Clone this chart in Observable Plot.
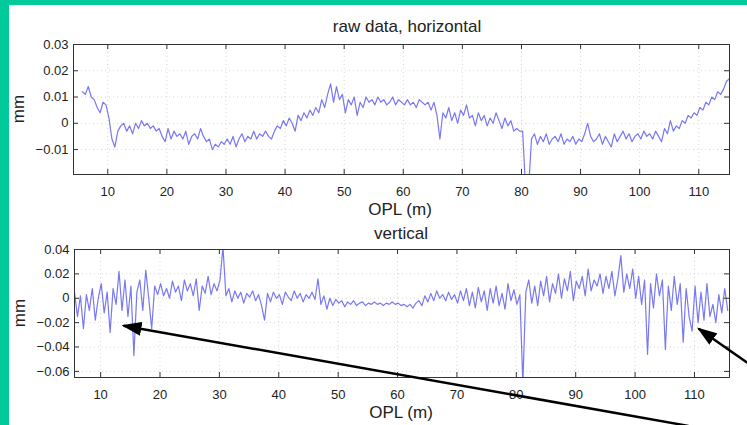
<!DOCTYPE html>
<html>
<head>
<meta charset="utf-8">
<script src="https://cdn.jsdelivr.net/npm/d3@7"></script>
<script src="https://cdn.jsdelivr.net/npm/@observablehq/plot@0.6"></script>
<style>
  html, body { margin: 0; padding: 0; background: #fff; }
  #page { position: relative; width: 747px; height: 425px; overflow: hidden; background: #fff;
          font-family: "Liberation Sans", Arial, Helvetica, sans-serif; color: #222; }
  .band { position: absolute; background: #00c99a; }
  .lbl { position: absolute; font-size: 17px; white-space: nowrap; transform: translate(-50%, -50%); }
  .rot { transform: translate(-50%, -50%) rotate(-90deg); }
  .plotbox { position: absolute; left: 0; }
</style>
</head>
<body>
<div id="page">
  <div class="plotbox" id="top" style="top:0px"></div>
  <div class="plotbox" id="bot" style="top:220px"></div>
  <div class="band" style="left:0;top:0;width:9px;height:425px"></div>
  <div class="band" style="left:0;top:0;width:747px;height:5px"></div>
  <div class="lbl" style="left:407px;top:27px">raw data, horizontal</div>
  <div class="lbl" style="left:400px;top:210px">OPL (m)</div>
  <div class="lbl rot" style="left:19px;top:109px">mm</div>
  <div class="lbl" style="left:401px;top:234px">vertical</div>
  <div class="lbl" style="left:401px;top:413px">OPL (m)</div>
  <div class="lbl rot" style="left:20px;top:313px">mm</div>
</div>
<script>
// ---- data ----
const hOPL = [
5.7,6.2,6.7,7.2,7.7,8.2,8.7,9.2,9.7,10.2,
10.7,11.2,11.7,12.2,12.7,13.2,13.7,14.2,14.7,15.2,
15.7,16.2,16.7,17.2,17.7,18.2,18.7,19.2,19.7,20.2,
20.7,21.2,21.7,22.2,22.7,23.2,23.7,24.2,24.7,25.2,
25.7,26.2,26.7,27.2,27.7,28.2,28.7,29.2,29.7,30.2,
30.7,31.2,31.7,32.2,32.7,33.2,33.7,34.2,34.7,35.2,
35.7,36.2,36.7,37.2,37.7,38.2,38.7,39.2,39.7,40.2,
40.7,41.2,41.7,42.2,42.7,43.2,43.7,44.2,44.7,45.2,
45.7,46.2,46.7,47.2,47.7,48.2,48.7,49.2,49.7,50.2,
50.7,51.2,51.7,52.2,52.7,53.2,53.7,54.2,54.7,55.2,
55.7,56.2,56.7,57.2,57.7,58.2,58.7,59.2,59.7,60.2,
60.7,61.2,61.7,62.2,62.7,63.2,63.7,64.2,64.7,65.2,
65.7,66.2,66.7,67.2,67.7,68.2,68.7,69.2,69.7,70.2,
70.7,71.2,71.7,72.2,72.7,73.2,73.7,74.2,74.7,75.2,
75.7,76.2,76.7,77.2,77.7,78.2,78.7,79.2,79.7,80.2,
80.7,81.2,81.7,82.2,82.7,83.2,83.7,84.2,84.7,85.2,
85.7,86.2,86.7,87.2,87.7,88.2,88.7,89.2,89.7,90.2,
90.7,91.2,91.7,92.2,92.7,93.2,93.7,94.2,94.7,95.2,
95.7,96.2,96.7,97.2,97.7,98.2,98.7,99.2,99.7,100.2,
100.7,101.2,101.7,102.2,102.7,103.2,103.7,104.2,104.7,105.2,
105.7,106.2,106.7,107.2,107.7,108.2,108.7,109.2,109.7,110.2,
110.7,111.2,111.7,112.2,112.7,113.2,113.7,114.2,114.7,115.2];
const hMM = [
0.012,0.011,0.014,0.010,0.009,0.006,0.004,0.008,0.007,0.002,
-0.006,-0.009,-0.003,-0.001,0,-0.003,-0.001,-0.004,0,-0.002,
0.001,-0.001,0,-0.002,-0.001,-0.003,-0.002,-0.005,-0.007,-0.002,
-0.006,-0.003,-0.005,-0.004,-0.006,-0.003,-0.008,-0.005,-0.004,-0.006,
-0.002,-0.005,-0.007,-0.006,-0.010,-0.008,-0.009,-0.007,-0.008,-0.006,
-0.008,-0.005,-0.009,-0.006,-0.004,-0.007,-0.005,-0.006,-0.003,-0.006,
-0.004,-0.005,-0.003,-0.005,-0.006,-0.003,-0.001,-0.002,0.001,-0.001,
0.002,0,-0.003,0.003,0.001,0.004,0.002,0.005,0.003,0.006,
0.004,0.009,0.006,0.011,0.015,0.008,0.014,0.009,0.011,0.004,
0.009,0.007,0.010,0.003,0.008,0.006,0.010,0.008,0.009,0.007,
0.010,0.008,0.009,0.007,0.008,0.010,0.007,0.009,0.008,0.007,
0.009,0.007,0.008,0.006,0.009,0.008,0.007,0.008,0.005,0.008,
0.003,-0.006,0.004,0.002,0.006,0.001,0.004,0,0.005,0.003,
0.007,0.002,0.003,-0.001,0.004,0.001,0.003,-0.001,0.002,0,
0.004,0.001,-0.002,0.002,-0.001,0.001,-0.003,-0.002,-0.003,-0.003,
-0.025,-0.025,-0.006,-0.004,-0.008,-0.005,-0.007,-0.004,-0.008,-0.006,
-0.005,-0.007,-0.004,-0.008,-0.006,-0.007,-0.005,-0.008,-0.006,-0.007,
-0.004,0,-0.005,-0.007,-0.006,-0.004,-0.008,-0.005,-0.007,-0.009,
-0.004,-0.007,-0.005,-0.003,-0.006,-0.004,-0.007,-0.005,-0.004,-0.006,
-0.003,-0.005,-0.004,-0.006,-0.003,-0.005,-0.007,-0.002,-0.004,0.001,
-0.003,-0.001,-0.002,0.001,0,0.003,0.002,0.004,0.003,0.006,
0.005,0.008,0.007,0.010,0.009,0.012,0.011,0.013,0.016,0.017];

const vOPL = [
5.6,6.1,6.6,7.1,7.6,8.1,8.6,9.1,9.6,10.1,
10.6,11.1,11.6,12.1,12.6,13.1,13.6,14.1,14.6,15.1,
15.6,16.1,16.6,17.1,17.6,18.1,18.6,19.1,19.6,20.1,
20.6,21.1,21.6,22.1,22.6,23.1,23.6,24.1,24.6,25.1,
25.6,26.1,26.6,27.1,27.6,28.1,28.6,29.1,29.6,30.1,
30.6,31.1,31.6,32.1,32.6,33.1,33.6,34.1,34.6,35.1,
35.6,36.1,36.6,37.1,37.6,38.1,38.6,39.1,39.6,40.1,
40.6,41.1,41.6,42.1,42.6,43.1,43.6,44.1,44.6,45.1,
45.6,46.1,46.6,47.1,47.6,48.1,48.6,49.1,49.6,50.1,
50.6,51.1,51.6,52.1,52.6,53.1,53.6,54.1,54.6,55.1,
55.6,56.1,56.6,57.1,57.6,58.1,58.6,59.1,59.6,60.1,
60.6,61.1,61.6,62.1,62.6,63.1,63.6,64.1,64.6,65.1,
65.6,66.1,66.6,67.1,67.6,68.1,68.6,69.1,69.6,70.1,
70.6,71.1,71.6,72.1,72.6,73.1,73.6,74.1,74.6,75.1,
75.6,76.1,76.6,77.1,77.6,78.1,78.6,79.1,79.6,80.1,
80.6,81.1,81.6,82.1,82.6,83.1,83.6,84.1,84.6,85.1,
85.6,86.1,86.6,87.1,87.6,88.1,88.6,89.1,89.6,90.1,
90.6,91.1,91.6,92.1,92.6,93.1,93.6,94.1,94.6,95.1,
95.6,96.1,96.6,97.1,97.6,98.1,98.6,99.1,99.6,100.1,
100.6,101.1,101.6,102.1,102.6,103.1,103.6,104.1,104.6,105.1,
105.6,106.1,106.6,107.1,107.6,108.1,108.6,109.1,109.6,110.1,
110.6,111.1,111.6,112.1,112.6,113.1,113.6,114.1,114.6,115.1,115.6];
const vMM = [
0.005,-0.015,0.002,-0.025,0.003,-0.010,0.008,-0.018,0,0.012,
-0.012,0.005,-0.028,0.008,-0.005,0.022,-0.010,0.015,-0.015,0.010,
-0.047,0.005,0.015,-0.010,0.023,0,-0.025,0.010,0.003,0.012,
0.002,0.008,0,0.014,0.005,0.010,-0.002,0.015,0.006,0.012,
0.002,0.016,-0.010,0.010,0.004,0.018,0.003,0.012,0.006,0.015,
0.042,0.002,0.008,-0.003,0.006,0,0.005,-0.004,0.004,0.001,
0.006,-0.002,0.003,-0.006,-0.018,0.004,-0.003,0.005,0,0.003,
-0.005,0.005,0.001,-0.002,0.006,0,0.004,-0.003,0.003,0,
0.005,-0.001,0.016,-0.005,0.002,-0.009,0,-0.006,-0.001,-0.004,
-0.002,-0.007,-0.003,-0.005,-0.002,-0.006,-0.004,-0.003,-0.006,-0.004,
-0.005,-0.003,-0.005,-0.004,-0.006,-0.004,-0.005,-0.003,-0.005,-0.004,
-0.006,-0.005,-0.007,-0.005,-0.008,-0.004,-0.002,-0.006,0.002,-0.003,
0.004,-0.002,0.006,0,0.003,-0.002,0.005,-0.001,0.003,-0.004,
0.006,-0.002,0.008,-0.006,0.005,-0.008,0.009,-0.003,0.006,-0.010,
0.008,-0.004,0.010,-0.006,0.004,-0.009,0.012,-0.002,0.007,-0.005,
0.003,-0.070,0.005,0.015,-0.004,0.010,-0.006,0.014,0.002,0.018,
-0.003,0.012,0.004,0.020,0,0.016,0.006,0.022,-0.002,0.014,
0.008,0.018,0.002,0.024,0.006,0.015,0.010,0.020,0.004,0.018,
0.008,0.022,0.002,0.016,0.035,0.005,0.020,0.008,0.024,0,
0.018,-0.005,0.015,-0.046,0.012,-0.008,0.020,0.002,0.015,-0.042,
0.010,-0.010,0.018,-0.005,0.012,-0.036,0.008,-0.015,-0.027,0.010,
-0.020,0.005,-0.018,0.012,-0.015,-0.005,-0.020,0.003,-0.012,0.008,-0.010];

const xTicks = [10,20,30,40,50,60,70,80,90,100,110];
const hTicksY = [-0.01,0,0.01,0.02,0.03];
const vTicksY = [-0.06,-0.04,-0.02,0,0.02,0.04];

// annotation arrows (bottom panel data coordinates): tail -> tip
const arrowTailX = [109.0, 118.9];
const arrowTailY = [-0.1047, -0.0529];
const arrowTipX = [13.85, 110.7];
const arrowTipY = [-0.0225, -0.025];

const lineColor = "#7878f0";
const fmt = d3.format("");

function panel({xs, ys, xDomain, yDomain, yTicks, width, height, mt, mb, ml, mr, extra = []}) {
  const data = xs.map((x, i) => ({x, y: ys[i]}));
  const fw = width - ml - mr, fh = height - mt - mb;
  return Plot.plot({
    width, height, marginTop: mt, marginBottom: mb, marginLeft: ml, marginRight: mr,
    x: {domain: xDomain},
    y: {domain: yDomain},
    style: {fontFamily: '"Liberation Sans", Arial, Helvetica, sans-serif', fontSize: "13px", color: "#222", background: "transparent", overflow: "visible"},
    marks: [
      Plot.gridX(xTicks, {stroke: "#999", strokeOpacity: 0.4, strokeDasharray: "1,3"}),
      Plot.gridY(yTicks, {stroke: "#999", strokeOpacity: 0.4, strokeDasharray: "1,3"}),
      Plot.line(data, {x: "x", y: "y", stroke: lineColor, strokeWidth: 1.2, clip: true}),
      Plot.tickX(xTicks, {x: d => d, insetBottom: fh - 5, stroke: "#333"}),
      Plot.tickX(xTicks, {x: d => d, insetTop: fh - 5, stroke: "#333"}),
      Plot.tickY(yTicks, {y: d => d, insetRight: fw - 5, stroke: "#333"}),
      Plot.tickY(yTicks, {y: d => d, insetLeft: fw - 5, stroke: "#333"}),
      Plot.frame({stroke: "#333", strokeWidth: 1}),
      Plot.axisX(xTicks, {tickSize: 0, tickPadding: 12, label: null, fontSize: 13}),
      Plot.axisY(yTicks, {tickSize: 0, tickPadding: 5, label: null, tickFormat: fmt, fontSize: 13}),
      ...extra
    ]
  });
}

const topPlot = panel({
  xs: hOPL, ys: hMM, xDomain: [4.2, 115.2], yDomain: [-0.0195, 0.03], yTicks: hTicksY,
  width: 747, height: 220, mt: 44, mb: 46, ml: 73, mr: 18
});
document.getElementById("top").appendChild(topPlot);

const arrows = arrowTailX.map((x, i) => ({x1: x, y1: arrowTailY[i], x2: arrowTipX[i], y2: arrowTipY[i]}));
const botPlot = panel({
  xs: vOPL, ys: vMM, xDomain: [5.6, 115.9], yDomain: [-0.065, 0.04], yTicks: vTicksY,
  width: 747, height: 205, mt: 29, mb: 48, ml: 74, mr: 18,
  extra: [Plot.link(arrows, {x1: "x1", y1: "y1", x2: "x2", y2: "y2", stroke: "#000", strokeWidth: 2.5})]
});
document.getElementById("bot").appendChild(botPlot);

// filled arrowheads on the annotation links
const svgB = d3.select(botPlot.tagName === "svg" ? botPlot : botPlot.querySelector("svg"));
svgB.append("defs").append("marker")
  .attr("id", "ahead").attr("markerUnits", "userSpaceOnUse")
  .attr("viewBox", "0 0 20 14").attr("markerWidth", 20).attr("markerHeight", 14)
  .attr("refX", 18).attr("refY", 7).attr("orient", "auto")
  .append("path").attr("d", "M0,0 L20,7 L0,14 Z").attr("fill", "#000");
svgB.selectAll('g[aria-label="link"] path').attr("marker-end", "url(#ahead)");
</script>
</body>
</html>
